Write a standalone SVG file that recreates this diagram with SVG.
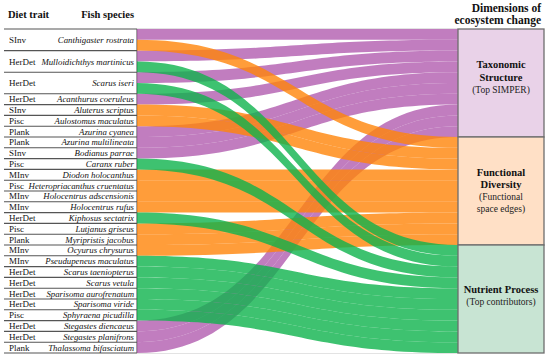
<svg xmlns="http://www.w3.org/2000/svg" width="550" height="359" viewBox="0 0 550 359">
<style>
.hd{font-family:"Liberation Serif","Times New Roman",serif;font-weight:bold;fill:#111}
.dt{font-family:"Liberation Serif","Times New Roman",serif;font-size:9px;fill:#111}
.sp{font-family:"Liberation Serif","Times New Roman",serif;font-size:8.8px;font-style:italic;fill:#111;text-anchor:end}
.ln{stroke:#555;stroke-width:1.1;fill:none}
.fr{stroke:#dcdcdc;stroke-width:0.8;fill:none}
.p{fill:#b25caf;fill-opacity:0.8}
.o{fill:#ff8509;fill-opacity:0.8}
.g{fill:#0eb34c;fill-opacity:0.8}
.box{stroke:#6d6d6d;stroke-width:1.3}
.bt{font-family:"Liberation Serif","Times New Roman",serif;font-size:10.5px;font-weight:bold;fill:#111;text-anchor:middle}
.bs{font-family:"Liberation Serif","Times New Roman",serif;font-size:9.5px;fill:#222;text-anchor:middle}
</style>
<rect width="550" height="359" fill="#fff"/>
<text class="hd" x="8" y="18" font-size="10.5">Diet trait</text>
<text class="hd" x="134" y="18" font-size="10.5" text-anchor="end">Fish species</text>
<text class="hd" x="541" y="11.5" font-size="11.5" text-anchor="end">Dimensions of</text>
<text class="hd" x="541" y="24" font-size="11.5" text-anchor="end">ecosystem change</text>

<g id="table">
<path class="fr" d="M137,28.5H458M137,353.5H458"/>
<path class="ln" d="M4,29H137M4,50.6H137M4,72.2H137M4,93.8H137M4,104.6H137M4,115.4H137M4,126.2H137M4,137H137M4,147.8H137M4,158.6H137M4,169.4H137M4,180.2H137M4,191H137M4,201.8H137M4,212.6H137M4,223.4H137M4,234.2H137M4,245H137M4,255.8H137M4,266.6H137M4,277.4H137M4,288.2H137M4,299H137M4,309.8H137M4,320.6H137M4,331.4H137M4,342.2H137M4,353H137M137,29V353"/>
</g>
<g id="row-canthigaster"><text class="dt" x="9" y="43">SInv</text><text class="sp" x="134" y="43">Canthigaster rostrata</text></g>
<g id="row-mulloidichthys"><text class="dt" x="9" y="64.6">HerDet</text><text class="sp" x="134" y="64.6">Mulloidichthys martinicus</text></g>
<g id="row-scarus-iseri"><text class="dt" x="9" y="86.2">HerDet</text><text class="sp" x="134" y="86.2">Scarus iseri</text></g>
<g id="row-acanthurus"><text class="dt" x="9" y="102.2">HerDet</text><text class="sp" x="134" y="102.2">Acanthurus coeruleus</text></g>
<g id="row-aluterus"><text class="dt" x="9" y="113">SInv</text><text class="sp" x="134" y="113">Aluterus scriptus</text></g>
<g id="row-aulostomus"><text class="dt" x="9" y="123.8">Pisc</text><text class="sp" x="134" y="123.8">Aulostomus maculatus</text></g>
<g id="row-azurina-cyanea"><text class="dt" x="9" y="134.6">Plank</text><text class="sp" x="134" y="134.6">Azurina cyanea</text></g>
<g id="row-azurina-multilineata"><text class="dt" x="9" y="145.4">Plank</text><text class="sp" x="134" y="145.4">Azurina multilineata</text></g>
<g id="row-bodianus"><text class="dt" x="9" y="156.2">SInv</text><text class="sp" x="134" y="156.2">Bodianus parrae</text></g>
<g id="row-caranx"><text class="dt" x="9" y="167">Pisc</text><text class="sp" x="134" y="167">Caranx ruber</text></g>
<g id="row-diodon"><text class="dt" x="9" y="177.8">MInv</text><text class="sp" x="134" y="177.8">Diodon holocanthus</text></g>
<g id="row-heteropriacanthus"><text class="dt" x="9" y="188.6">Pisc</text><text class="sp" x="134" y="188.6">Heteropriacanthus cruentatus</text></g>
<g id="row-holocentrus-adscensionis"><text class="dt" x="9" y="199.4">MInv</text><text class="sp" x="134" y="199.4">Holocentrus adscensionis</text></g>
<g id="row-holocentrus-rufus"><text class="dt" x="9" y="210.2">MInv</text><text class="sp" x="134" y="210.2">Holocentrus rufus</text></g>
<g id="row-kiphosus"><text class="dt" x="9" y="221">HerDet</text><text class="sp" x="134" y="221">Kiphosus sectatrix</text></g>
<g id="row-lutjanus"><text class="dt" x="9" y="231.8">Pisc</text><text class="sp" x="134" y="231.8">Lutjanus griseus</text></g>
<g id="row-myripristis"><text class="dt" x="9" y="242.6">Plank</text><text class="sp" x="134" y="242.6">Myripristis jacobus</text></g>
<g id="row-ocyurus"><text class="dt" x="9" y="253.4">MInv</text><text class="sp" x="134" y="253.4">Ocyurus chrysurus</text></g>
<g id="row-pseudupeneus"><text class="dt" x="9" y="264.2">MInv</text><text class="sp" x="134" y="264.2">Pseudupeneus maculatus</text></g>
<g id="row-scarus-taeniopterus"><text class="dt" x="9" y="275">HerDet</text><text class="sp" x="134" y="275">Scarus taeniopterus</text></g>
<g id="row-scarus-vetula"><text class="dt" x="9" y="285.8">HerDet</text><text class="sp" x="134" y="285.8">Scarus vetula</text></g>
<g id="row-sparisoma-aurofrenatum"><text class="dt" x="9" y="296.6">HerDet</text><text class="sp" x="134" y="296.6">Sparisoma aurofrenatum</text></g>
<g id="row-sparisoma-viride"><text class="dt" x="9" y="307.4">HerDet</text><text class="sp" x="134" y="307.4">Sparisoma viride</text></g>
<g id="row-sphyraena"><text class="dt" x="9" y="318.2">Pisc</text><text class="sp" x="134" y="318.2">Sphyraena picudilla</text></g>
<g id="row-stegastes-diencaeus"><text class="dt" x="9" y="329">HerDet</text><text class="sp" x="134" y="329">Stegastes diencaeus</text></g>
<g id="row-stegastes-planifrons"><text class="dt" x="9" y="339.8">HerDet</text><text class="sp" x="134" y="339.8">Stegastes planifrons</text></g>
<g id="row-thalassoma"><text class="dt" x="9" y="350.6">Plank</text><text class="sp" x="134" y="350.6">Thalassoma bifasciatum</text></g>

<g id="connectors">
<path class="p" d="M137,29C297.5,29 297.5,29 458,29V39.8C297.5,39.8 297.5,39.8 137,39.8Z"/>
<path class="p" d="M137,50.6C297.5,50.6 297.5,39.8 458,39.8V50.6C297.5,50.6 297.5,61.4 137,61.4Z"/>
<path class="p" d="M137,72.2C297.5,72.2 297.5,50.6 458,50.6V61.4C297.5,61.4 297.5,83 137,83Z"/>
<path class="p" d="M137,93.8C297.5,93.8 297.5,61.4 458,61.4V72.2C297.5,72.2 297.5,104.6 137,104.6Z"/>
<path class="p" d="M137,126.2C297.5,126.2 297.5,72.2 458,72.2V83C297.5,83 297.5,137 137,137Z"/>
<path class="p" d="M137,137C297.5,137 297.5,83 458,83V93.8C297.5,93.8 297.5,147.8 137,147.8Z"/>
<path class="p" d="M137,147.8C297.5,147.8 297.5,93.8 458,93.8V104.6C297.5,104.6 297.5,158.6 137,158.6Z"/>
<path class="p" d="M137,320.6C297.5,320.6 297.5,104.6 458,104.6V115.4C297.5,115.4 297.5,331.4 137,331.4Z"/>
<path class="p" d="M137,331.4C297.5,331.4 297.5,115.4 458,115.4V126.2C297.5,126.2 297.5,342.2 137,342.2Z"/>
<path class="p" d="M137,342.2C297.5,342.2 297.5,126.2 458,126.2V137C297.5,137 297.5,353 137,353Z"/>

<path class="o" d="M137,39.8C297.5,39.8 297.5,137 458,137V147.8C297.5,147.8 297.5,50.6 137,50.6Z"/>
<path class="o" d="M137,104.6C297.5,104.6 297.5,147.8 458,147.8V158.6C297.5,158.6 297.5,115.4 137,115.4Z"/>
<path class="o" d="M137,115.4C297.5,115.4 297.5,158.6 458,158.6V169.4C297.5,169.4 297.5,126.2 137,126.2Z"/>
<path class="o" d="M137,169.4H458V180.2H137Z"/>
<path class="o" d="M137,180.2H458V191H137Z"/>
<path class="o" d="M137,191H458V201.8H137Z"/>
<path class="o" d="M137,201.8H458V212.6H137Z"/>
<path class="o" d="M137,223.4C297.5,223.4 297.5,212.6 458,212.6V223.4C297.5,223.4 297.5,234.2 137,234.2Z"/>
<path class="o" d="M137,234.2C297.5,234.2 297.5,223.4 458,223.4V234.2C297.5,234.2 297.5,245 137,245Z"/>
<path class="o" d="M137,245C297.5,245 297.5,234.2 458,234.2V245C297.5,245 297.5,255.8 137,255.8Z"/>

<path class="g" d="M137,61.4C297.5,61.4 297.5,245 458,245V255.8C297.5,255.8 297.5,72.2 137,72.2Z"/>
<path class="g" d="M137,83C297.5,83 297.5,255.8 458,255.8V266.6C297.5,266.6 297.5,93.8 137,93.8Z"/>
<path class="g" d="M137,158.6C297.5,158.6 297.5,266.6 458,266.6V277.4C297.5,277.4 297.5,169.4 137,169.4Z"/>
<path class="g" d="M137,212.6C297.5,212.6 297.5,277.4 458,277.4V288.2C297.5,288.2 297.5,223.4 137,223.4Z"/>
<path class="g" d="M137,255.8C297.5,255.8 297.5,288.2 458,288.2V299C297.5,299 297.5,266.6 137,266.6Z"/>
<path class="g" d="M137,266.6C297.5,266.6 297.5,299 458,299V309.8C297.5,309.8 297.5,277.4 137,277.4Z"/>
<path class="g" d="M137,277.4C297.5,277.4 297.5,309.8 458,309.8V320.6C297.5,320.6 297.5,288.2 137,288.2Z"/>
<path class="g" d="M137,288.2C297.5,288.2 297.5,320.6 458,320.6V331.4C297.5,331.4 297.5,299 137,299Z"/>
<path class="g" d="M137,299C297.5,299 297.5,331.4 458,331.4V342.2C297.5,342.2 297.5,309.8 137,309.8Z"/>
<path class="g" d="M137,309.8C297.5,309.8 297.5,342.2 458,342.2V353C297.5,353 297.5,320.6 137,320.6Z"/>
</g>

<g id="node-taxonomic">
<rect class="box" x="458" y="29" width="86" height="108" fill="#e9d2e8"/>
<text class="bt" x="501" y="68">Taxonomic</text>
<text class="bt" x="501" y="81">Structure</text>
<text class="bs" x="501" y="93">(Top SIMPER)</text>
</g>
<g id="node-functional">
<rect class="box" x="458" y="137" width="86" height="108" fill="#ffe0c6"/>
<text class="bt" x="501" y="176">Functional</text>
<text class="bt" x="501" y="188">Diversity</text>
<text class="bs" x="501" y="200">(Functional</text>
<text class="bs" x="501" y="212">space edges)</text>
</g>
<g id="node-nutrient">
<rect class="box" x="458" y="245" width="86" height="108" fill="#c8e4d3"/>
<text class="bt" x="501" y="293">Nutrient Process</text>
<text class="bs" x="501" y="305">(Top contributors)</text>
</g>
</svg>
